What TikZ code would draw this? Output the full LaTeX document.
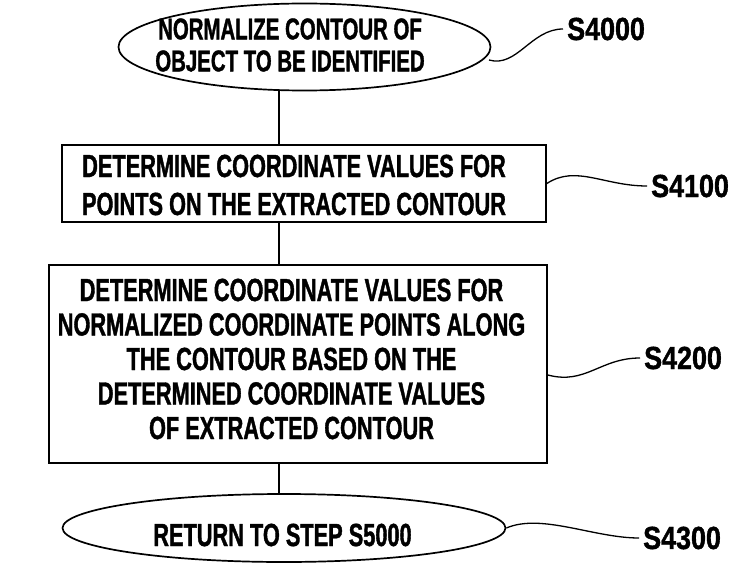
\documentclass[tikz,border=0pt]{standalone}
\usepackage{fontspec}
\newfontfamily\labfont[FakeStretch=0.68,FakeBold=1.2]{Liberation Sans}
\newfontfamily\numfont[FakeStretch=0.84,FakeBold=1.2]{Liberation Sans}
\usetikzlibrary{shapes.geometric}
\begin{document}
\begin{tikzpicture}[x=1pt,y=-1pt,
  flow/.style={draw, line width=1.7pt},
  oval/.style={flow, ellipse, inner sep=0pt},
  stepbox/.style={flow, rectangle, inner sep=0pt},
  txt/.style={align=center, inner sep=0pt, font=\labfont\bfseries\fontsize{32}{36}\selectfont},
  reflab/.style={inner sep=0pt, font=\numfont\bfseries\fontsize{32}{36}\selectfont},
  lead/.style={line width=1.3pt}]
\useasboundingbox (0,0) rectangle (733,567);
% shapes
\node[oval, minimum width=372pt, minimum height=87pt] (e1) at (304.5,47) {};
\node[txt, font=\labfont\bfseries\fontsize{30}{32}\selectfont] (t1) at (290,45) {NORMALIZE CONTOUR OF\\OBJECT TO BE IDENTIFIED};
\node[stepbox, minimum width=484pt, minimum height=77pt] (b1) at (304,183.5) {};
\node[txt, font=\labfont\bfseries\fontsize{32}{38}\selectfont] (t2) at (294,185) {DETERMINE COORDINATE VALUES FOR\\POINTS ON THE EXTRACTED CONTOUR};
\node[stepbox, minimum width=498pt, minimum height=198pt] (b2) at (298,364) {};
\node[txt, font=\labfont\bfseries\fontsize{32}{34.5}\selectfont] (t3) at (291.5,359) {DETERMINE COORDINATE VALUES FOR\\NORMALIZED COORDINATE POINTS ALONG\\THE CONTOUR BASED ON THE\\DETERMINED COORDINATE VALUES\\OF EXTRACTED CONTOUR};
\node[oval, minimum width=443pt, minimum height=68pt] (e2) at (284,528) {};
\node[txt] (t4) at (282.5,535) {RETURN TO STEP S5000};
% connectors
\coordinate (ax) at (279,0);
\draw[flow] (e1.south -| ax) -- (b1.north -| ax);
\draw[flow] (b1.south -| ax) -- (b2.north -| ax);
\draw[flow] (b2.south -| ax) -- (e2.north -| ax);
% reference labels
\node[reflab, anchor=west] (r0) at (567,29) {S4000};
\node[reflab, anchor=west] (r1) at (651,186) {S4100};
\node[reflab, anchor=west] (r2) at (644,358) {S4200};
\node[reflab, anchor=west] (r3) at (643,538) {S4300};
\coordinate (l0) at (489,60);
\coordinate (l1) at (b1.east);
\coordinate (l2) at ([yshift=-11pt]b2.east);
\coordinate (l3) at (e2.east);
\draw[lead] (l0) .. controls +(28,8) and +(-32,0) .. ([xshift=-4pt]r0.west);
\draw[lead] (l1) .. controls +(29,-19) and +(-43,0) .. ([xshift=-4pt]r1.west);
\draw[lead] (l2) .. controls +(38,10) and +(-40,0) .. ([xshift=-4pt]r2.west);
\draw[lead] (l3) .. controls +(35,-15) and +(-45,0) .. ([xshift=-4pt]r3.west);
\end{tikzpicture}
\end{document}
